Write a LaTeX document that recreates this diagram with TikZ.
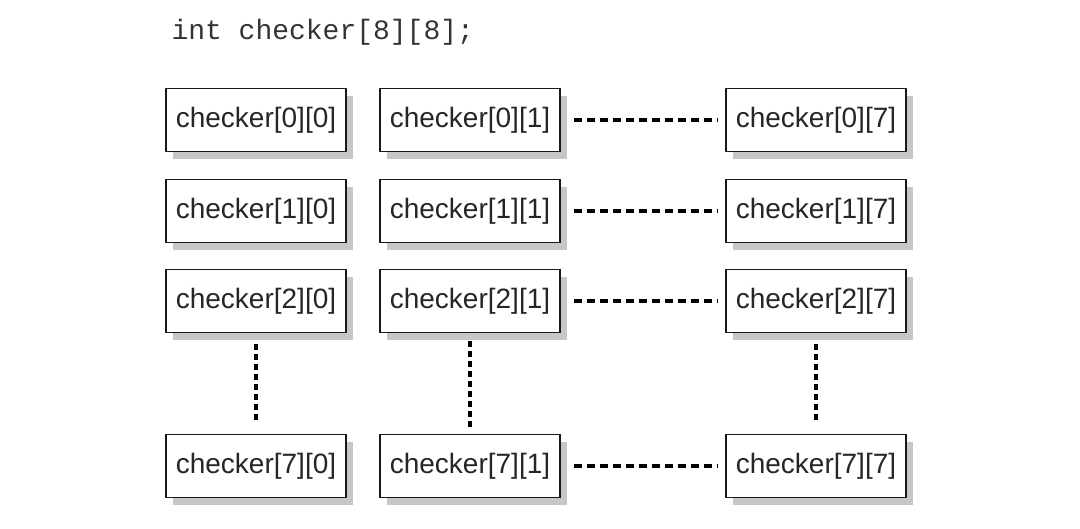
\documentclass[tikz,border=0pt]{standalone}
\usepackage{fontspec}
\setmainfont{Liberation Sans}
\newfontfamily\monof{Liberation Mono}
\usetikzlibrary{shadows}
\begin{document}
\begin{tikzpicture}[x=1pt,y=-1pt,
  cell/.style={draw=black!90, line width=1.8pt, fill=white, rectangle,
    minimum width=180pt, minimum height=63pt, inner sep=0pt,
    font=\fontsize{28}{30}\selectfont, text=black!85,
    drop shadow={shadow xshift=7pt, shadow yshift=-7pt, fill=black!22, opacity=1}},
  hdots/.style={line width=3.5pt, dash pattern=on 8pt off 5pt},
  vdots/.style={line width=3.5pt, dash pattern=on 6pt off 4pt}]
\useasboundingbox (0,0) rectangle (1080,528);
\node[anchor=west, font=\monof\fontsize{28}{30}\selectfont, text=black!80] (title) at (168,32) {int checker[8][8];};
\foreach \r/\y in {0/120,1/211,2/301,7/466}{
  \node[cell] (c\r0) at (256,\y) {checker[\r][0]};
  \node[cell] (c\r1) at (470,\y) {checker[\r][1]};
  \node[cell] (c\r7) at (816,\y) {checker[\r][7]};
  \draw[hdots, shorten <=13pt, shorten >=8pt] (c\r1.east) -- (c\r7.west);
}
\draw[vdots, shorten <=11pt, shorten >=14pt] (c20.south) -- (c70.north);
\draw[vdots, shorten <=8pt, shorten >=6pt] (c21.south) -- (c71.north);
\draw[vdots, shorten <=11pt, shorten >=13pt] (c27.south) -- (c77.north);
\end{tikzpicture}
\end{document}
